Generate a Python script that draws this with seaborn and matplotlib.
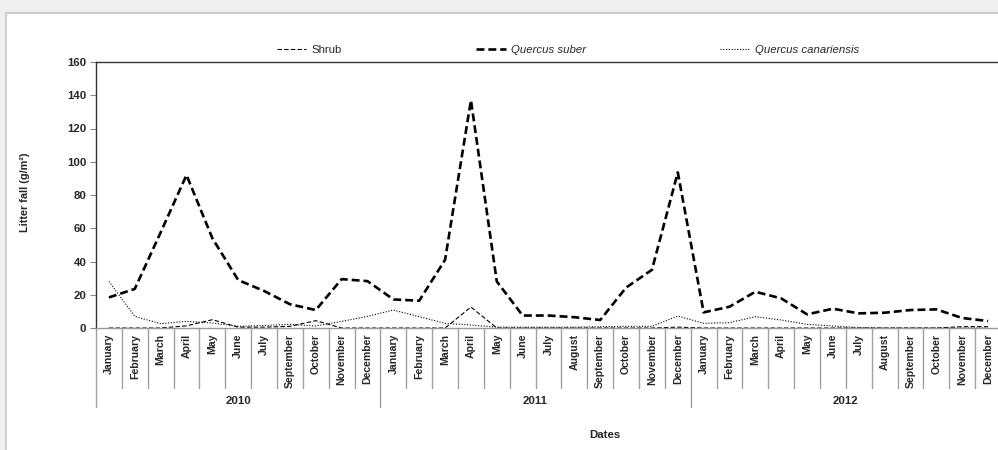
import matplotlib
matplotlib.use('Agg')
import matplotlib.pyplot as plt
import matplotlib.patches as mpatches
import pandas as pd
import seaborn as sns

# meses de cada año (en 2010 no hay agosto)
meses_2010 = ['January', 'February', 'March', 'April', 'May', 'June', 'July',
              'September', 'October', 'November', 'December']
meses_2011 = ['January', 'February', 'March', 'April', 'May', 'June', 'July',
              'August', 'September', 'October', 'November', 'December']
meses_2012 = ['January', 'February', 'March', 'April', 'May', 'June', 'July',
              'August', 'September', 'October', 'November', 'December']
years = ['2010', '2011', '2012']

# litter fall (g/m2)
shrub = [0, 0, 0, 1.3, 5, 0.5, 0.5, 1, 4.4, 0, 0,
         0, 0, 0, 12.6, 0, 0, 0, 0, 0, 0, 0, 0.5,
         0, 0, 0, 0, 0, 0, 0, 0, 0, 0, 0.8, 0.8]
quercus_suber = [18.4, 23.5, 57.5, 92, 54, 28.8, 22.3, 14.3, 10.8, 29.4, 28.2,
                 17.2, 16.4, 41, 137, 28, 7.5, 7.5, 6.5, 4.8, 24.3, 35, 93.6,
                 9.4, 12.8, 21.8, 17.8, 8.2, 11.6, 8.8, 9.2, 10.8, 11.2, 6, 4.2]
quercus_canariensis = [28, 7, 2.6, 4, 3, 1, 1.5, 2.2, 1.2, 4, 7,
                       10.8, 6.8, 2.8, 1.8, 0.5, 0.5, 0.5, 0.5, 0.8, 1, 1, 7.2,
                       2.8, 3.2, 6.8, 4.8, 2.2, 1.2, 0.3, 0, 0, 0, 0, 0]

meses = meses_2010 + meses_2011 + meses_2012
df = pd.DataFrame({'idx': range(len(meses)), 'mes': meses,
                   'Shrub': shrub, 'Quercus suber': quercus_suber,
                   'Quercus canariensis': quercus_canariensis})

sns.set_style('white')
plt.rcParams['font.family'] = ['Liberation Sans', 'DejaVu Sans']
fs = 8.2

W, H = 998, 450
fig = plt.figure(figsize=(W / 100, H / 100), dpi=100, facecolor='#f0f0f0')
# panel blanco del grafico
fig.patches.append(mpatches.Rectangle((6 / W, -0.1), 1.2, (H - 13) / H + 0.1,
                                      transform=fig.transFigure, facecolor='white',
                                      edgecolor='#c4c4c4', linewidth=1.2, zorder=-5))

x0, x1, y0, y1 = 96, 1001, 62, 328
ax = fig.add_axes([x0 / W, (H - y1) / H, (x1 - x0) / W, (y1 - y0) / H])
ax.set_facecolor('white')

sns.lineplot(data=df, x='idx', y='Shrub', ax=ax, color='black', linewidth=0.8,
             linestyle=(0, (4, 2)), label='Shrub')
sns.lineplot(data=df, x='idx', y='Quercus suber', ax=ax, color='black', linewidth=1.9,
             linestyle=(0, (3, 1.5)), label='Quercus suber')
sns.lineplot(data=df, x='idx', y='Quercus canariensis', ax=ax, color='black', linewidth=0.8,
             linestyle=(0, (1, 1.5)), label='Quercus canariensis')

ax.set_xlim(-0.5, len(meses) - 0.5)
ax.set_ylim(0, 160)
ax.set_yticks(range(0, 161, 20))
ax.set_yticklabels([str(v) for v in range(0, 161, 20)], fontsize=fs, fontweight='bold')
ax.set_xticks(range(len(meses)))
ax.set_xticklabels(meses, rotation=90, fontsize=7.6, fontweight='bold', va='top')
ax.tick_params(axis='x', length=0, pad=4)
ax.tick_params(axis='y', length=4, width=0.8, color='#888888', direction='out', pad=3, left=True)
ax.set_xlabel('')
ax.set_ylabel('')

for s in ['left', 'top']:
    ax.spines[s].set_color('#333333')
    ax.spines[s].set_linewidth(1)
ax.spines['right'].set_visible(False)
ax.spines['bottom'].set_color('#999999')
ax.spines['bottom'].set_linewidth(1)

# separadores de categoria y de año
tr = ax.get_xaxis_transform()
bordes = [i - 0.5 for i in range(len(meses) + 1)]
n10, n11 = len(meses_2010), len(meses_2011)
cortes_year = [-0.5, n10 - 0.5, n10 + n11 - 0.5, len(meses) - 0.5]
for b in bordes:
    fondo = -(407 - 328) / 266 if b in cortes_year else -(388 - 328) / 266
    ax.plot([b, b], [0, fondo], transform=tr, color='#a0a0a0', linewidth=1, clip_on=False)
for k, y in enumerate(years):
    centro = (cortes_year[k] + cortes_year[k + 1]) / 2
    ax.text(centro, -(401 - 328) / 266, y, transform=tr, ha='center', va='center',
            fontsize=fs, fontweight='bold')

fig.text(605 / W, (H - 435) / H, 'Dates', ha='center', va='center', fontsize=fs, fontweight='bold')
fig.text(25 / W, (H - 192) / H, 'Litter fall (g/m²)', rotation=90, ha='center', va='center',
         fontsize=7.8, fontweight='bold')

ax.get_legend().remove()
leg = fig.legend(*ax.get_legend_handles_labels(), loc='center', bbox_to_anchor=(568 / W, (H - 50) / H),
                 ncol=3, frameon=False, fontsize=fs, columnspacing=11.8, handlelength=2.6,
                 handletextpad=0.45)
for t in leg.get_texts()[1:]:
    t.set_fontstyle('italic')

fig.savefig('out.png', dpi=100, facecolor=fig.get_facecolor())
